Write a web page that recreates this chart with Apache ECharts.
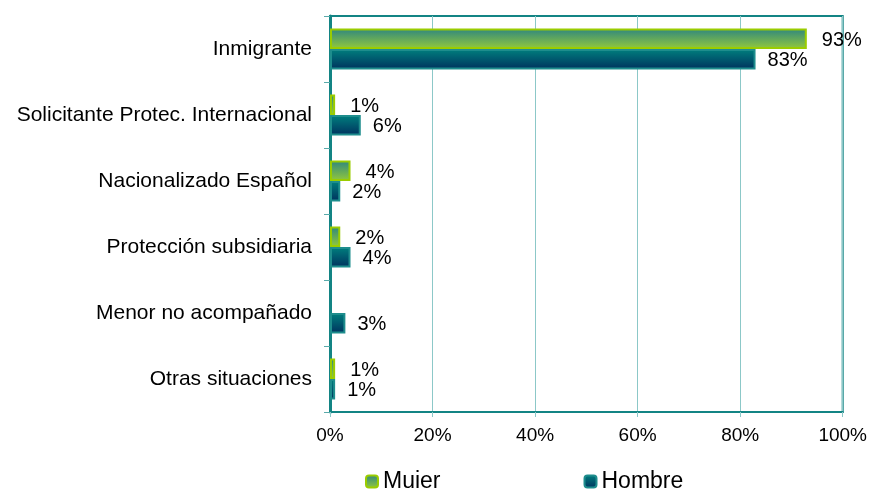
<!DOCTYPE html>
<html>
<head>
<meta charset="utf-8">
<script src="https://cdn.jsdelivr.net/npm/echarts@6/dist/echarts.min.js"></script>
<style>
  html, body { margin: 0; padding: 0; background: #fff; }
  #chart { width: 870px; height: 491px; }
</style>
</head>
<body>
<div id="chart"></div>
<script>
const categories = ['Inmigrante', 'Solicitante Protec. Internacional', 'Nacionalizado Español',
  'Protección subsidiaria', 'Menor no acompañado', 'Otras situaciones']
const muier = [93, 1, 4, 2, 0, 1]
const hombre = [83, 6, 2, 4, 3, 1]
const xTicks = [0, 20, 40, 60, 80, 100]

const font = 'Liberation Sans, Arial, sans-serif'

var myChart = echarts.init(document.getElementById('chart'))

function grad(top, bottom) {
  return new echarts.graphic.LinearGradient(0, 0, 0, 1, [
    { offset: 0, color: top },
    { offset: 1, color: bottom }
  ])
}

myChart.setOption({
  animation: false,
  grid: {
    left: 330, right: 27, top: 16, bottom: 79,
    show: true, borderColor: '#138484', borderWidth: 2
  },
  legend: {
    left: 360, bottom: -7,
    itemWidth: 12, itemHeight: 12, itemGap: 143,
    textStyle: { fontFamily: font, fontSize: 23, color: '#000' },
    data: ['Muier', 'Hombre']
  },
  xAxis: {
    type: 'value', min: 0, max: 100, interval: 20,
    axisLine: { show: true, lineStyle: { color: '#138484', width: 2 } },
    axisTick: { show: true, length: 5, lineStyle: { color: '#8cc8c8' } },
    splitLine: { lineStyle: { color: '#8cc8c8', width: 1 } },
    axisLabel: {
      fontFamily: font, fontSize: 19, color: '#000', margin: 14,
      formatter: v => xTicks.includes(v) ? v + '%' : ''
    }
  },
  yAxis: {
    type: 'category', inverse: true, data: categories,
    axisLine: { show: true, lineStyle: { color: '#138484', width: 3 } },
    axisTick: { show: true, length: 6, lineStyle: { color: '#5aaaaa' } },
    axisLabel: { fontFamily: font, fontSize: 21, color: '#000', margin: 18 }
  },
  series: [
    {
      name: 'Muier', type: 'bar', barGap: '0%', barCategoryGap: '38%',
      data: muier.map(v => v === 0 ? '-' : v),
      itemStyle: { color: grad('#2e8680', '#94c93a'), borderColor: '#9acc00', borderWidth: 2 },
      label: {
        show: true, position: 'right', distance: 15, offset: [0, 2],
        fontFamily: font, fontSize: 20, color: '#000',
        formatter: p => p.value + '%'
      }
    },
    {
      name: 'Hombre', type: 'bar',
      data: hombre,
      itemStyle: { color: grad('#00807e', '#00315e'), borderColor: '#1e8d8d', borderWidth: 2 },
      label: {
        show: true, position: 'right', distance: 12, offset: [0, 1],
        fontFamily: font, fontSize: 20, color: '#000',
        formatter: p => p.value + '%'
      }
    }
  ]
})
</script>
</body>
</html>
